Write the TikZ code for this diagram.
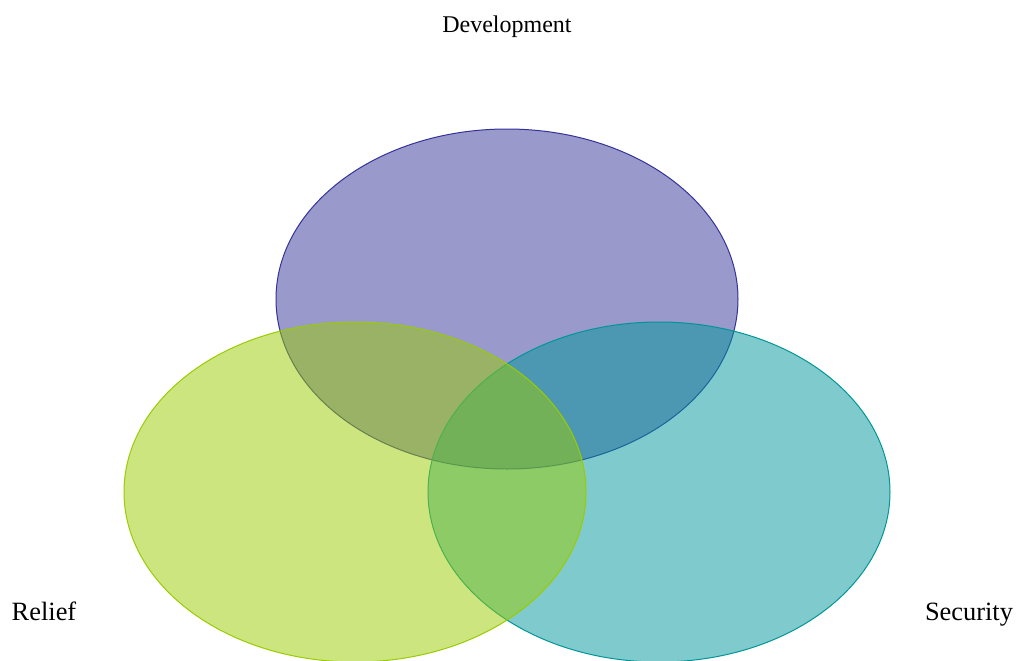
\documentclass[tikz,border=0pt]{standalone}
\usepackage{fontspec}
\setmainfont{Liberation Serif}
\usetikzlibrary{shapes.geometric}
\definecolor{devblue}{RGB}{51,51,153}
\definecolor{relgreen}{RGB}{153,204,0}
\definecolor{secteal}{RGB}{0,150,153}
\tikzset{x=0.5pt, y=-0.5pt,
  every node/.style={align=center},
  setbox/.style={ellipse, inner sep=0pt, line width=0.5pt,
    minimum width=231pt, minimum height=170pt, fill opacity=0.5},
  setlabel/.style={font=\fontsize{13.2}{15}\selectfont, anchor=base}}

\begin{document}
\begin{tikzpicture}
  \useasboundingbox (0,0) rectangle (1019,660);

  % the three sets, drawn top, right, left
  \node [setbox, draw=devblue, fill=devblue] (dev) at (507,299) {};
  \node [setbox, draw=secteal, fill=secteal] (sec) at (659,492) {};
  \node [setbox, draw=relgreen, fill=relgreen] (rel) at (355,492) {};

  % set names
  \node [setlabel, font=\fontsize{12}{14}\selectfont] (devlabel) at (507,32) {Development};
  \node [setlabel] (rellabel) at (44,620) {Relief};
  \node [setlabel] (seclabel) at (969,620) {Security};
\end{tikzpicture}
\end{document}
